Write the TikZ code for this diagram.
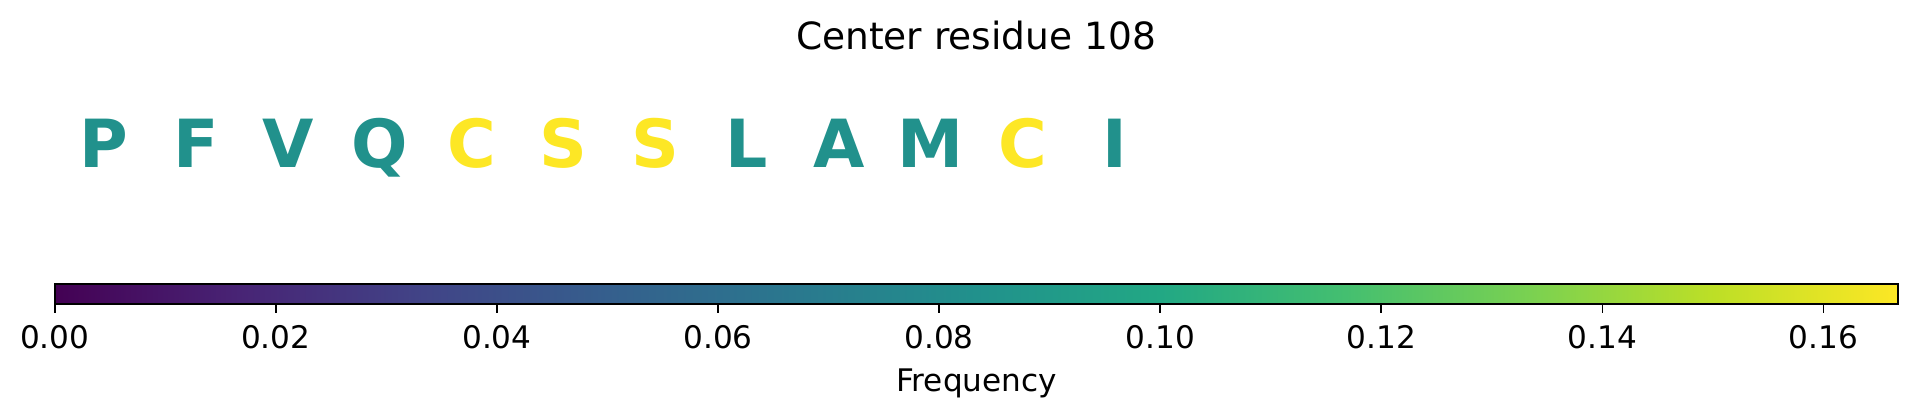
\documentclass[tikz,border=0pt]{standalone}
\usepackage{fontspec}
\setmainfont{DejaVu Sans}
\definecolor{vir0}{HTML}{440154}
\definecolor{vir1}{HTML}{482475}
\definecolor{vir2}{HTML}{414487}
\definecolor{vir3}{HTML}{355F8D}
\definecolor{vir4}{HTML}{2A788E}
\definecolor{vir5}{HTML}{21918C}
\definecolor{vir6}{HTML}{22A884}
\definecolor{vir7}{HTML}{44BF70}
\definecolor{vir8}{HTML}{7AD151}
\definecolor{vir9}{HTML}{BDDF26}
\definecolor{vir10}{HTML}{FDE725}
\definecolor{cmid}{HTML}{21918C}
\definecolor{cmax}{HTML}{FDE725}
\pgfdeclarehorizontalshading{viridis}{100bp}{color(0bp)=(vir0); color(25bp)=(vir0); color(30bp)=(vir1); color(35bp)=(vir2); color(40bp)=(vir3); color(45bp)=(vir4); color(50bp)=(vir5); color(55bp)=(vir6); color(60bp)=(vir7); color(65bp)=(vir8); color(70bp)=(vir9); color(75bp)=(vir10); color(100bp)=(vir10)}

\begin{document}
\begin{tikzpicture}[x=0.36pt, y=0.36pt, line width=0.6pt]
  \tikzstyle{res}=[inner sep=0pt, anchor=base, font=\fontsize{23.9}{26}\selectfont\bfseries]
  \tikzstyle{ticklab}=[inner sep=0pt, anchor=base, font=\fontsize{11.2}{13}\selectfont]
  \useasboundingbox (0,0) rectangle (1917,416);

	\node[inner sep=0pt, anchor=base, font=\fontsize{13.5}{16}\selectfont] (title) at (976,366.7) {Center residue 108};

	\node[res, text=cmid] (R0) at (104,248.7) {P};
	\node[res, text=cmid] (R1) at (195.85,248.7) {F};
	\node[res, text=cmid] (R2) at (287.7,248.7) {V};
	\node[res, text=cmid] (R3) at (379.55,248.7) {Q};
	\node[res, text=cmax] (R4) at (471.4,248.7) {C};
	\node[res, text=cmax] (R5) at (563.25,248.7) {S};
	\node[res, text=cmax] (R6) at (655.1,248.7) {S};
	\node[res, text=cmid] (R7) at (746.95,248.7) {L};
	\node[res, text=cmid] (R8) at (838.8,248.7) {A};
	\node[res, text=cmid] (R9) at (930.65,248.7) {M};
	\node[res, text=cmax] (R10) at (1022.5,248.7) {C};
	\node[res, text=cmid] (R11) at (1114.35,248.7) {I};

	% colour bar
	\shade[shading=viridis] (54.7,111.7) rectangle (1898.3,131.7);
	\draw (54.7,111.7) rectangle (1898.3,131.7);

	\draw (54.7,111.7) -- (54.7,103.1);
	\draw (275.8,111.7) -- (275.8,103.1);
	\draw (496.9,111.7) -- (496.9,103.1);
	\draw (718.0,111.7) -- (718.0,103.1);
	\draw (939.1,111.7) -- (939.1,103.1);
	\draw (1160.2,111.7) -- (1160.2,103.1);
	\draw (1381.3,111.7) -- (1381.3,103.1);
	\draw (1602.4,111.7) -- (1602.4,103.1);
	\draw (1823.5,111.7) -- (1823.5,103.1);

	\node[ticklab] (T0) at (54.7,67.3) {0.00};
	\node[ticklab] (T1) at (275.8,67.3) {0.02};
	\node[ticklab] (T2) at (496.9,67.3) {0.04};
	\node[ticklab] (T3) at (718.0,67.3) {0.06};
	\node[ticklab] (T4) at (939.1,67.3) {0.08};
	\node[ticklab] (T5) at (1160.2,67.3) {0.10};
	\node[ticklab] (T6) at (1381.3,67.3) {0.12};
	\node[ticklab] (T7) at (1602.4,67.3) {0.14};
	\node[ticklab] (T8) at (1823.5,67.3) {0.16};

	\node[ticklab] (label) at (976.5,25) {Frequency};

\end{tikzpicture}
\end{document}
